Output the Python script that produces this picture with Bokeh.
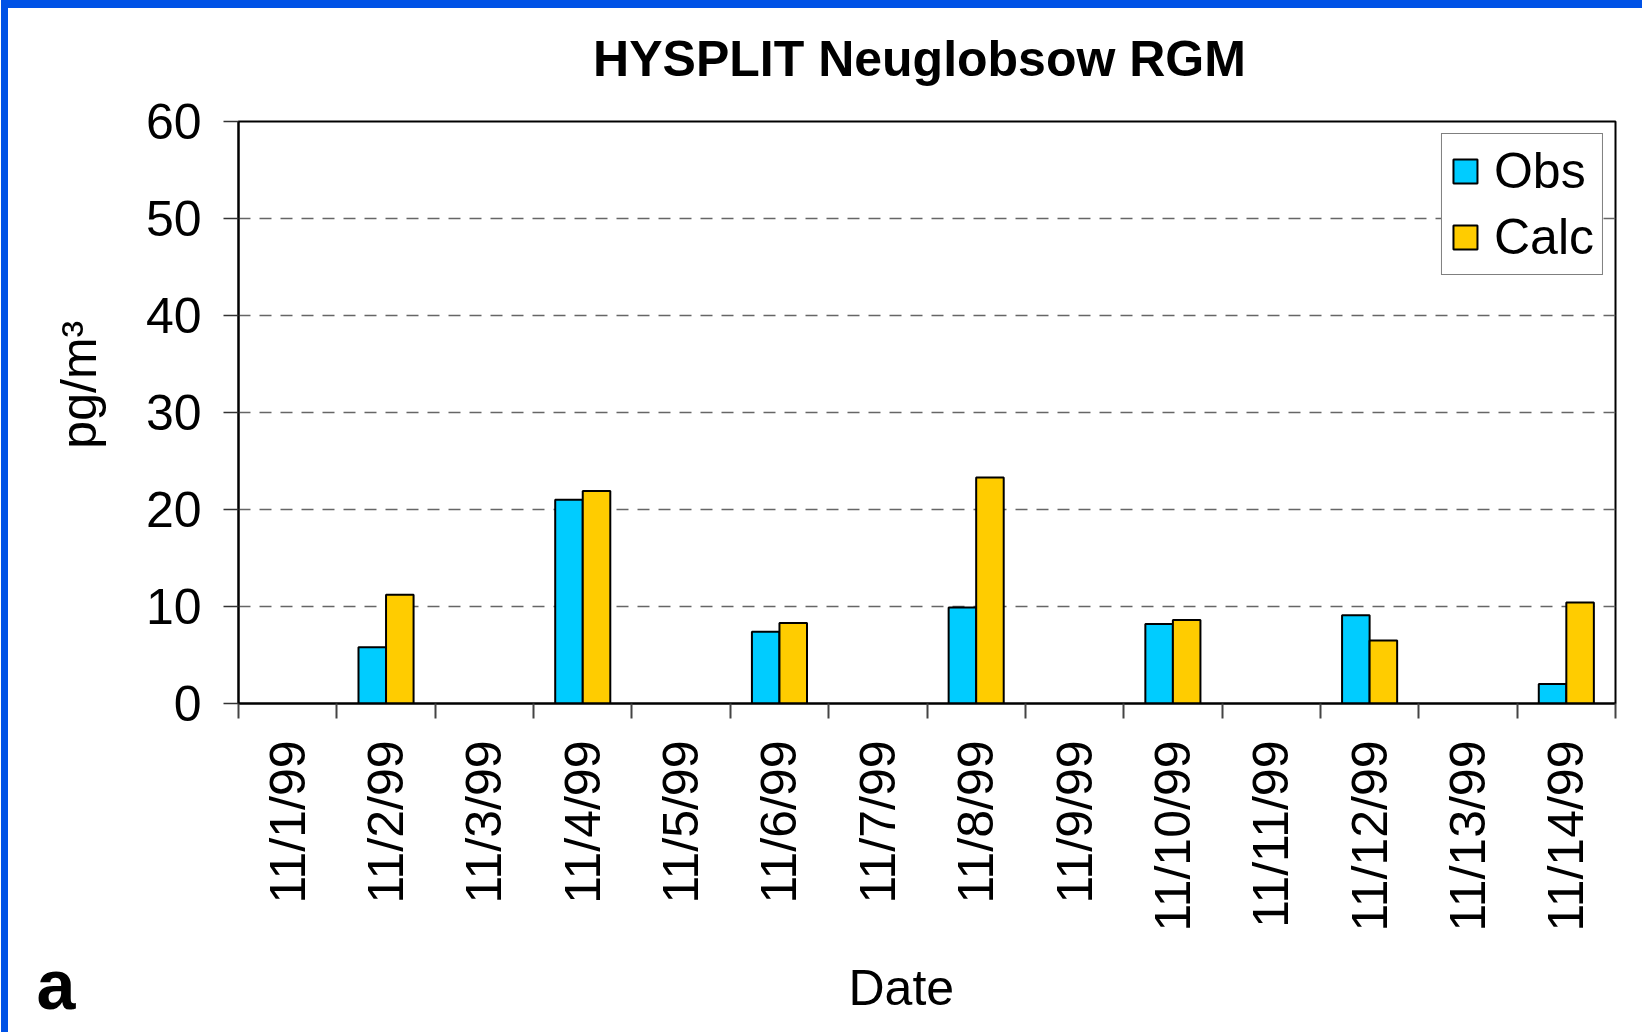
import math
from bokeh.plotting import figure
from bokeh.models import (Range1d, LinearAxis, FixedTicker,
                          ColumnDataSource, Legend, LegendItem, Label, Title)
from bokeh.transform import dodge
from bokeh.embed import file_html
from bokeh.resources import INLINE

# ---- data ----
dates = ["11/1/99", "11/2/99", "11/3/99", "11/4/99", "11/5/99", "11/6/99", "11/7/99",
         "11/8/99", "11/9/99", "11/10/99", "11/11/99", "11/12/99", "11/13/99", "11/14/99"]
obs = [None, 5.8, None, 21.0, None, 7.4, None, 9.9, None, 8.2, None, 9.1, None, 2.0]
calc = [None, 11.2, None, 21.9, None, 8.3, None, 23.3, None, 8.6, None, 6.5, None, 10.4]
y_ticks = [0, 10, 20, 30, 40, 50, 60]
grid_ticks = [10, 20, 30, 40, 50]
series_names = ["Obs", "Calc"]
title_text = "HYSPLIT Neuglobsow RGM"
x_label = "Date"
y_label = "pg/m\u00b3"
panel_tag = "a"

FONT = "Liberation Sans"
FS = "50px"
OBS_COLOR = "#00CCFF"
CALC_COLOR = "#FFCC00"

n = len(dates)
centers = [i + 0.5 for i in range(n)]          # category centres on the x scale
edges = list(range(n + 1))                      # category boundaries (tick marks)

idx = [i for i, v in enumerate(obs) if v is not None]
src = ColumnDataSource(dict(
    x=[centers[i] for i in idx],
    date=[dates[i] for i in idx],
    obs=[obs[i] for i in idx],
    calc=[calc[i] for i in idx],
))

p = figure(width=1634, height=1016,
           x_range=Range1d(0, n),
           y_range=Range1d(0, 60),
           x_axis_location=None,
           output_backend="svg", toolbar_location=None,
           min_border_left=228, min_border_right=27,
           min_border_top=113, min_border_bottom=321)

p.background_fill_color = "white"
p.border_fill_color = "white"
p.outline_line_color = "black"
p.outline_line_width = 2

# y axis
ya = p.yaxis[0]
ya.ticker = FixedTicker(ticks=y_ticks)
ya.minor_tick_line_color = None
ya.major_tick_in = 0
ya.major_tick_out = 15
ya.major_tick_line_color = "#333333"
ya.major_tick_line_width = 1.5
ya.axis_line_color = "black"
ya.axis_line_width = 2
ya.major_label_text_font = FONT
ya.major_label_text_font_size = FS
ya.major_label_text_color = "black"
ya.major_label_standoff = 22
# leading no-break spaces shift the (bottom-to-top) label up, as in the reference
ya.axis_label = "\u00a0\u00a0\u00a0\u00a0" + y_label
ya.axis_label_text_font = FONT
ya.axis_label_text_font_size = FS
ya.axis_label_text_font_style = "normal"
ya.axis_label_text_color = "black"
ya.axis_label_standoff = 36

for g in p.ygrid:
    g.ticker = FixedTicker(ticks=grid_ticks)
    g.grid_line_color = "#666666"
    g.grid_line_width = 1.5
    g.grid_line_dash = "12 9"
for g in p.xgrid:
    g.visible = False

# x axis: tick marks at category boundaries
edge_axis = LinearAxis(ticker=FixedTicker(ticks=edges),
                       major_label_overrides={e: "" for e in edges})
edge_axis.major_tick_in = 0
edge_axis.major_tick_out = 15
edge_axis.major_tick_line_color = "#444444"
edge_axis.major_tick_line_width = 2
edge_axis.minor_tick_line_color = None
edge_axis.axis_line_color = "black"
edge_axis.axis_line_width = 2
edge_axis.major_label_standoff = 0
edge_axis.major_label_text_font_size = "1px"
p.add_layout(edge_axis, "below")

# x axis: date labels at category centres
cat_axis = LinearAxis(ticker=FixedTicker(ticks=centers),
                      major_label_overrides={c: d for c, d in zip(centers, dates)})
cat_axis.axis_line_color = None
cat_axis.major_tick_line_color = None
cat_axis.minor_tick_line_color = None
cat_axis.major_tick_out = 0
cat_axis.major_tick_in = 0
cat_axis.major_label_orientation = math.pi / 2
cat_axis.major_label_text_font = FONT
cat_axis.major_label_text_font_size = FS
cat_axis.major_label_text_color = "black"
cat_axis.major_label_standoff = 22
# invisible spacer label: pushes the "Date" title down without moving tick labels
cat_axis.axis_label = " "
cat_axis.axis_label_text_font_size = "1px"
cat_axis.axis_label_standoff = 15
p.add_layout(cat_axis, "below")

# "Date" axis title, left-aligned at the position used in the reference
date_title = Title(text=x_label, align="left", offset=610, standoff=8,
                   text_font=FONT, text_font_size=FS, text_font_style="normal",
                   text_color="black")
p.add_layout(date_title, "below")

# bars
bw = 0.28
r_obs = p.vbar(x=dodge("x", -bw / 2), top="obs", bottom=0, width=bw,
               source=src, fill_color=OBS_COLOR, line_color="black", line_width=2)
r_calc = p.vbar(x=dodge("x", bw / 2), top="calc", bottom=0, width=bw,
                source=src, fill_color=CALC_COLOR, line_color="black", line_width=2)

legend = Legend(items=[LegendItem(label=series_names[0], renderers=[r_obs]),
                       LegendItem(label=series_names[1], renderers=[r_calc])],
                location="top_right")
legend.margin = 12
legend.padding = 8
legend.spacing = 8
legend.glyph_width = 30
legend.glyph_height = 30
legend.label_standoff = 14
legend.label_text_font = FONT
legend.label_text_font_size = FS
legend.label_text_color = "black"
legend.border_line_color = "black"
legend.border_line_width = 1.5
legend.background_fill_color = "white"
legend.background_fill_alpha = 1
p.add_layout(legend)

# chart title (as a side-panel label so it can sit where the reference has it)
title_label = Label(x=911, y=50, x_units="canvas", y_units="canvas", text=title_text,
                    text_font=FONT, text_font_size="50px", text_font_style="bold",
                    text_color="black", text_baseline="middle", text_align="center")
p.add_layout(title_label, "above")

# panel tag "a" (placed in a side panel so it is not clipped to the plot frame)
tag = Label(x=28, y=976, x_units="canvas", y_units="canvas", text=panel_tag,
            text_font=FONT, text_font_size="70px", text_font_style="bold",
            text_color="black", text_baseline="middle", text_align="left")
p.add_layout(tag, "left")

html = file_html(p, INLINE)
k = html.rfind("<body>")
if k >= 0:
    html = (html[:k]
            + '<body style="margin:0 8px 8px 1px; border-top:8px solid #0052E6; border-left:7px solid #0052E6;">'
            + html[k + len("<body>"):])
open("out.html", "w").write(html)
